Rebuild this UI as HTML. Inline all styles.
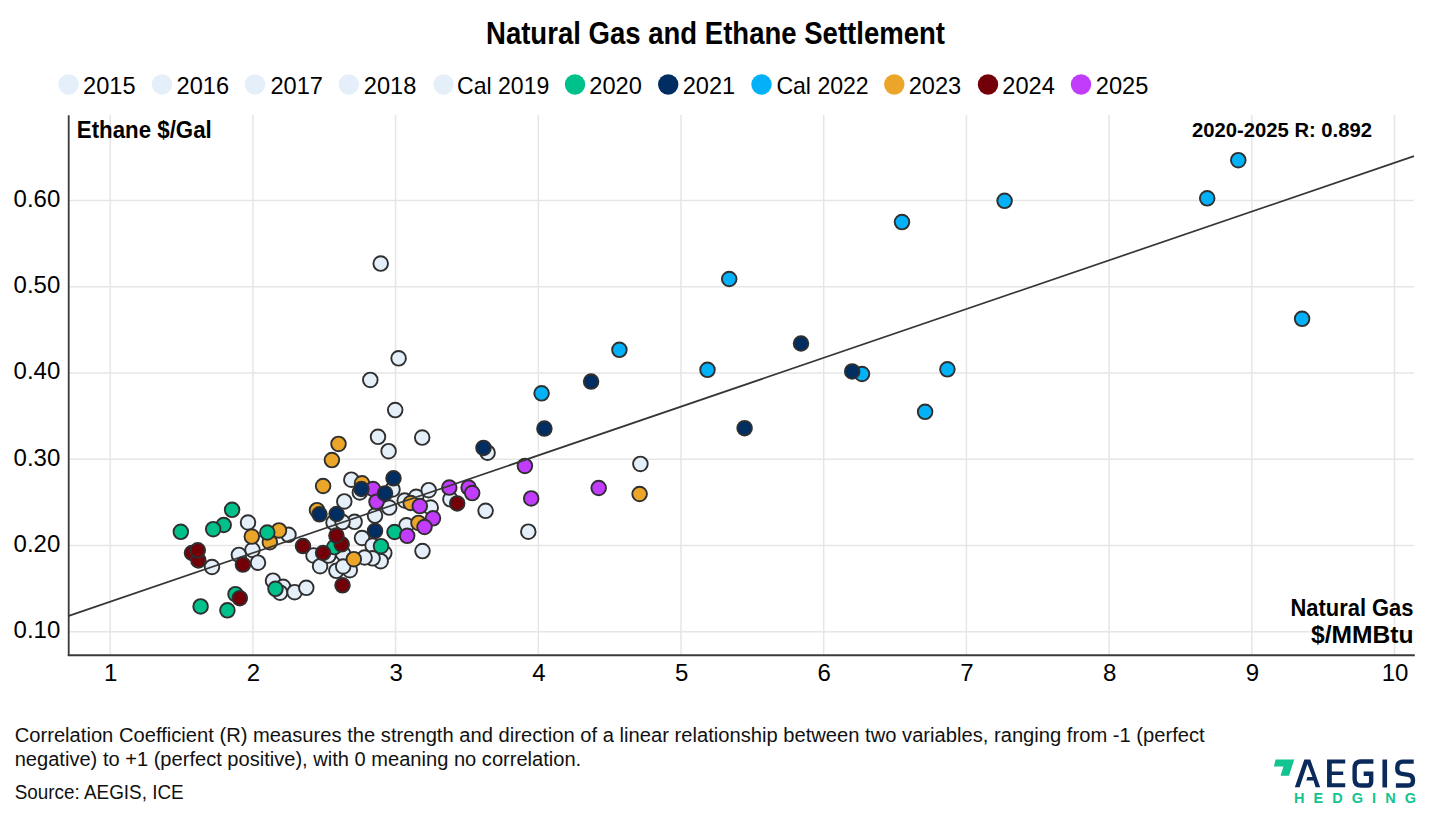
<!DOCTYPE html>
<html><head><meta charset="utf-8"><style>
html,body{margin:0;padding:0;background:#fff;width:1430px;height:819px;overflow:hidden}
svg text{font-family:"Liberation Sans",sans-serif;fill:#000}
.t{font-size:24px}
.title{font-size:30.5px;font-weight:700}
.b22{font-size:23.5px;font-weight:700}
.b23{font-size:23px;font-weight:700}
.b20{font-size:20px;font-weight:700}
.fn{font-size:20px;fill:#111}
.hed{font-size:122px;font-weight:700;fill:#12c48f}
</style></head><body>
<svg width="1430" height="819" viewBox="0 0 1430 819" style="display:block">
<line x1="110.2" y1="115" x2="110.2" y2="655" stroke="#e6e6e6" stroke-width="1.5"/>
<line x1="252.9" y1="115" x2="252.9" y2="655" stroke="#e6e6e6" stroke-width="1.5"/>
<line x1="395.6" y1="115" x2="395.6" y2="655" stroke="#e6e6e6" stroke-width="1.5"/>
<line x1="538.3" y1="115" x2="538.3" y2="655" stroke="#e6e6e6" stroke-width="1.5"/>
<line x1="681.0" y1="115" x2="681.0" y2="655" stroke="#e6e6e6" stroke-width="1.5"/>
<line x1="823.7" y1="115" x2="823.7" y2="655" stroke="#e6e6e6" stroke-width="1.5"/>
<line x1="966.4" y1="115" x2="966.4" y2="655" stroke="#e6e6e6" stroke-width="1.5"/>
<line x1="1109.1" y1="115" x2="1109.1" y2="655" stroke="#e6e6e6" stroke-width="1.5"/>
<line x1="1251.8" y1="115" x2="1251.8" y2="655" stroke="#e6e6e6" stroke-width="1.5"/>
<line x1="1394.5" y1="115" x2="1394.5" y2="655" stroke="#e6e6e6" stroke-width="1.5"/>
<line x1="68" y1="631.8" x2="1414" y2="631.8" stroke="#e6e6e6" stroke-width="1.5"/>
<line x1="68" y1="545.6" x2="1414" y2="545.6" stroke="#e6e6e6" stroke-width="1.5"/>
<line x1="68" y1="459.3" x2="1414" y2="459.3" stroke="#e6e6e6" stroke-width="1.5"/>
<line x1="68" y1="373.1" x2="1414" y2="373.1" stroke="#e6e6e6" stroke-width="1.5"/>
<line x1="68" y1="286.8" x2="1414" y2="286.8" stroke="#e6e6e6" stroke-width="1.5"/>
<line x1="68" y1="200.6" x2="1414" y2="200.6" stroke="#e6e6e6" stroke-width="1.5"/>
<line x1="68.7" y1="115.2" x2="68.7" y2="656" stroke="#3a3a3a" stroke-width="1.8"/>
<line x1="67.8" y1="655.2" x2="1414.8" y2="655.2" stroke="#3a3a3a" stroke-width="2"/>
<text x="110.8" y="680.5" text-anchor="middle" class="t">1</text>
<text x="253.5" y="680.5" text-anchor="middle" class="t">2</text>
<text x="396.2" y="680.5" text-anchor="middle" class="t">3</text>
<text x="538.9" y="680.5" text-anchor="middle" class="t">4</text>
<text x="681.6" y="680.5" text-anchor="middle" class="t">5</text>
<text x="824.3" y="680.5" text-anchor="middle" class="t">6</text>
<text x="967.0" y="680.5" text-anchor="middle" class="t">7</text>
<text x="1109.7" y="680.5" text-anchor="middle" class="t">8</text>
<text x="1252.4" y="680.5" text-anchor="middle" class="t">9</text>
<text x="1395.1" y="680.5" text-anchor="middle" class="t">10</text>
<text x="60.3" y="638.1" text-anchor="end" class="t">0.10</text>
<text x="60.3" y="551.9" text-anchor="end" class="t">0.20</text>
<text x="60.3" y="465.6" text-anchor="end" class="t">0.30</text>
<text x="60.3" y="379.4" text-anchor="end" class="t">0.40</text>
<text x="60.3" y="293.1" text-anchor="end" class="t">0.50</text>
<text x="60.3" y="206.9" text-anchor="end" class="t">0.60</text>
<text x="76.8" y="138.4" class="b22" textLength="135" lengthAdjust="spacingAndGlyphs">Ethane $/Gal</text>
<text x="1290.5" y="616" class="b23" textLength="123" lengthAdjust="spacingAndGlyphs">Natural Gas</text>
<text x="1311" y="643.2" class="b23" textLength="102.5" lengthAdjust="spacingAndGlyphs">$/MMBtu</text>
<text x="1192" y="137.2" class="b20" textLength="180" lengthAdjust="spacingAndGlyphs">2020-2025 R: 0.892</text>
<circle cx="380.7" cy="263.6" r="7.3" fill="#e4effa" stroke="#2f2f2f" stroke-width="1.9"/>
<circle cx="398.6" cy="358.3" r="7.3" fill="#e4effa" stroke="#2f2f2f" stroke-width="1.9"/>
<circle cx="370.3" cy="379.9" r="7.3" fill="#e4effa" stroke="#2f2f2f" stroke-width="1.9"/>
<circle cx="395.2" cy="410.1" r="7.3" fill="#e4effa" stroke="#2f2f2f" stroke-width="1.9"/>
<circle cx="378.0" cy="436.8" r="7.3" fill="#e4effa" stroke="#2f2f2f" stroke-width="1.9"/>
<circle cx="422.2" cy="437.6" r="7.3" fill="#e4effa" stroke="#2f2f2f" stroke-width="1.9"/>
<circle cx="388.6" cy="451.2" r="7.3" fill="#e4effa" stroke="#2f2f2f" stroke-width="1.9"/>
<circle cx="487.6" cy="452.7" r="7.3" fill="#e4effa" stroke="#2f2f2f" stroke-width="1.9"/>
<circle cx="640.4" cy="463.9" r="7.3" fill="#e4effa" stroke="#2f2f2f" stroke-width="1.9"/>
<circle cx="351.3" cy="479.7" r="7.3" fill="#e4effa" stroke="#2f2f2f" stroke-width="1.9"/>
<circle cx="359.8" cy="492.4" r="7.3" fill="#e4effa" stroke="#2f2f2f" stroke-width="1.9"/>
<circle cx="392.5" cy="489.4" r="7.3" fill="#e4effa" stroke="#2f2f2f" stroke-width="1.9"/>
<circle cx="344.3" cy="501.4" r="7.3" fill="#e4effa" stroke="#2f2f2f" stroke-width="1.9"/>
<circle cx="354.6" cy="521.8" r="7.3" fill="#e4effa" stroke="#2f2f2f" stroke-width="1.9"/>
<circle cx="375.0" cy="515.6" r="7.3" fill="#e4effa" stroke="#2f2f2f" stroke-width="1.9"/>
<circle cx="389.2" cy="507.6" r="7.3" fill="#e4effa" stroke="#2f2f2f" stroke-width="1.9"/>
<circle cx="404.7" cy="500.5" r="7.3" fill="#e4effa" stroke="#2f2f2f" stroke-width="1.9"/>
<circle cx="416.2" cy="496.8" r="7.3" fill="#e4effa" stroke="#2f2f2f" stroke-width="1.9"/>
<circle cx="428.7" cy="490.2" r="7.3" fill="#e4effa" stroke="#2f2f2f" stroke-width="1.9"/>
<circle cx="430.7" cy="507.5" r="7.3" fill="#e4effa" stroke="#2f2f2f" stroke-width="1.9"/>
<circle cx="450.4" cy="499.3" r="7.3" fill="#e4effa" stroke="#2f2f2f" stroke-width="1.9"/>
<circle cx="485.6" cy="510.8" r="7.3" fill="#e4effa" stroke="#2f2f2f" stroke-width="1.9"/>
<circle cx="333.5" cy="522.6" r="7.3" fill="#e4effa" stroke="#2f2f2f" stroke-width="1.9"/>
<circle cx="342.5" cy="522.1" r="7.3" fill="#e4effa" stroke="#2f2f2f" stroke-width="1.9"/>
<circle cx="406.5" cy="525.3" r="7.3" fill="#e4effa" stroke="#2f2f2f" stroke-width="1.9"/>
<circle cx="528.3" cy="531.7" r="7.3" fill="#e4effa" stroke="#2f2f2f" stroke-width="1.9"/>
<circle cx="422.5" cy="551.1" r="7.3" fill="#e4effa" stroke="#2f2f2f" stroke-width="1.9"/>
<circle cx="248.0" cy="522.5" r="7.3" fill="#e4effa" stroke="#2f2f2f" stroke-width="1.9"/>
<circle cx="288.5" cy="534.8" r="7.3" fill="#e4effa" stroke="#2f2f2f" stroke-width="1.9"/>
<circle cx="212.0" cy="567.0" r="7.3" fill="#e4effa" stroke="#2f2f2f" stroke-width="1.9"/>
<circle cx="238.9" cy="554.9" r="7.3" fill="#e4effa" stroke="#2f2f2f" stroke-width="1.9"/>
<circle cx="252.5" cy="550.0" r="7.3" fill="#e4effa" stroke="#2f2f2f" stroke-width="1.9"/>
<circle cx="258.0" cy="562.7" r="7.3" fill="#e4effa" stroke="#2f2f2f" stroke-width="1.9"/>
<circle cx="273.0" cy="580.7" r="7.3" fill="#e4effa" stroke="#2f2f2f" stroke-width="1.9"/>
<circle cx="283.1" cy="586.8" r="7.3" fill="#e4effa" stroke="#2f2f2f" stroke-width="1.9"/>
<circle cx="280.1" cy="592.7" r="7.3" fill="#e4effa" stroke="#2f2f2f" stroke-width="1.9"/>
<circle cx="294.6" cy="592.2" r="7.3" fill="#e4effa" stroke="#2f2f2f" stroke-width="1.9"/>
<circle cx="306.3" cy="587.8" r="7.3" fill="#e4effa" stroke="#2f2f2f" stroke-width="1.9"/>
<circle cx="313.5" cy="555.4" r="7.3" fill="#e4effa" stroke="#2f2f2f" stroke-width="1.9"/>
<circle cx="320.1" cy="566.2" r="7.3" fill="#e4effa" stroke="#2f2f2f" stroke-width="1.9"/>
<circle cx="328.4" cy="555.6" r="7.3" fill="#e4effa" stroke="#2f2f2f" stroke-width="1.9"/>
<circle cx="343.0" cy="553.5" r="7.3" fill="#e4effa" stroke="#2f2f2f" stroke-width="1.9"/>
<circle cx="362.0" cy="538.0" r="7.3" fill="#e4effa" stroke="#2f2f2f" stroke-width="1.9"/>
<circle cx="372.6" cy="545.5" r="7.3" fill="#e4effa" stroke="#2f2f2f" stroke-width="1.9"/>
<circle cx="384.3" cy="553.1" r="7.3" fill="#e4effa" stroke="#2f2f2f" stroke-width="1.9"/>
<circle cx="380.7" cy="561.2" r="7.3" fill="#e4effa" stroke="#2f2f2f" stroke-width="1.9"/>
<circle cx="372.6" cy="558.3" r="7.3" fill="#e4effa" stroke="#2f2f2f" stroke-width="1.9"/>
<circle cx="364.6" cy="557.5" r="7.3" fill="#e4effa" stroke="#2f2f2f" stroke-width="1.9"/>
<circle cx="336.4" cy="570.8" r="7.3" fill="#e4effa" stroke="#2f2f2f" stroke-width="1.9"/>
<circle cx="349.8" cy="570.2" r="7.3" fill="#e4effa" stroke="#2f2f2f" stroke-width="1.9"/>
<circle cx="343.2" cy="566.5" r="7.3" fill="#e4effa" stroke="#2f2f2f" stroke-width="1.9"/>
<circle cx="338.5" cy="443.9" r="7.3" fill="#eba62a" stroke="#2f2f2f" stroke-width="1.9"/>
<circle cx="331.9" cy="460.1" r="7.3" fill="#eba62a" stroke="#2f2f2f" stroke-width="1.9"/>
<circle cx="323.1" cy="486.0" r="7.3" fill="#eba62a" stroke="#2f2f2f" stroke-width="1.9"/>
<circle cx="362.0" cy="483.3" r="7.3" fill="#eba62a" stroke="#2f2f2f" stroke-width="1.9"/>
<circle cx="317.0" cy="510.2" r="7.3" fill="#eba62a" stroke="#2f2f2f" stroke-width="1.9"/>
<circle cx="410.7" cy="503.0" r="7.3" fill="#eba62a" stroke="#2f2f2f" stroke-width="1.9"/>
<circle cx="418.5" cy="522.9" r="7.3" fill="#eba62a" stroke="#2f2f2f" stroke-width="1.9"/>
<circle cx="639.6" cy="494.0" r="7.3" fill="#eba62a" stroke="#2f2f2f" stroke-width="1.9"/>
<circle cx="251.8" cy="536.6" r="7.3" fill="#eba62a" stroke="#2f2f2f" stroke-width="1.9"/>
<circle cx="279.0" cy="530.4" r="7.3" fill="#eba62a" stroke="#2f2f2f" stroke-width="1.9"/>
<circle cx="269.8" cy="542.2" r="7.3" fill="#eba62a" stroke="#2f2f2f" stroke-width="1.9"/>
<circle cx="353.8" cy="559.2" r="7.3" fill="#eba62a" stroke="#2f2f2f" stroke-width="1.9"/>
<circle cx="232.1" cy="509.8" r="7.3" fill="#00c18a" stroke="#2f2f2f" stroke-width="1.9"/>
<circle cx="180.8" cy="531.8" r="7.3" fill="#00c18a" stroke="#2f2f2f" stroke-width="1.9"/>
<circle cx="223.7" cy="525.0" r="7.3" fill="#00c18a" stroke="#2f2f2f" stroke-width="1.9"/>
<circle cx="213.2" cy="529.2" r="7.3" fill="#00c18a" stroke="#2f2f2f" stroke-width="1.9"/>
<circle cx="267.3" cy="532.5" r="7.3" fill="#00c18a" stroke="#2f2f2f" stroke-width="1.9"/>
<circle cx="275.5" cy="588.8" r="7.3" fill="#00c18a" stroke="#2f2f2f" stroke-width="1.9"/>
<circle cx="235.5" cy="594.2" r="7.3" fill="#00c18a" stroke="#2f2f2f" stroke-width="1.9"/>
<circle cx="200.6" cy="606.4" r="7.3" fill="#00c18a" stroke="#2f2f2f" stroke-width="1.9"/>
<circle cx="227.4" cy="610.3" r="7.3" fill="#00c18a" stroke="#2f2f2f" stroke-width="1.9"/>
<circle cx="334.4" cy="547.1" r="7.3" fill="#00c18a" stroke="#2f2f2f" stroke-width="1.9"/>
<circle cx="394.5" cy="532.0" r="7.3" fill="#00c18a" stroke="#2f2f2f" stroke-width="1.9"/>
<circle cx="381.0" cy="546.2" r="7.3" fill="#00c18a" stroke="#2f2f2f" stroke-width="1.9"/>
<circle cx="457.2" cy="503.4" r="7.3" fill="#730009" stroke="#2f2f2f" stroke-width="1.9"/>
<circle cx="192.0" cy="553.0" r="7.3" fill="#730009" stroke="#2f2f2f" stroke-width="1.9"/>
<circle cx="198.4" cy="560.4" r="7.3" fill="#730009" stroke="#2f2f2f" stroke-width="1.9"/>
<circle cx="197.8" cy="550.3" r="7.3" fill="#730009" stroke="#2f2f2f" stroke-width="1.9"/>
<circle cx="242.9" cy="564.6" r="7.3" fill="#730009" stroke="#2f2f2f" stroke-width="1.9"/>
<circle cx="239.8" cy="598.2" r="7.3" fill="#730009" stroke="#2f2f2f" stroke-width="1.9"/>
<circle cx="303.0" cy="546.1" r="7.3" fill="#730009" stroke="#2f2f2f" stroke-width="1.9"/>
<circle cx="323.1" cy="553.0" r="7.3" fill="#730009" stroke="#2f2f2f" stroke-width="1.9"/>
<circle cx="341.7" cy="544.3" r="7.3" fill="#730009" stroke="#2f2f2f" stroke-width="1.9"/>
<circle cx="336.4" cy="535.6" r="7.3" fill="#730009" stroke="#2f2f2f" stroke-width="1.9"/>
<circle cx="342.5" cy="585.3" r="7.3" fill="#730009" stroke="#2f2f2f" stroke-width="1.9"/>
<circle cx="524.9" cy="465.9" r="7.3" fill="#c23cfc" stroke="#2f2f2f" stroke-width="1.9"/>
<circle cx="531.2" cy="498.4" r="7.3" fill="#c23cfc" stroke="#2f2f2f" stroke-width="1.9"/>
<circle cx="598.7" cy="488.0" r="7.3" fill="#c23cfc" stroke="#2f2f2f" stroke-width="1.9"/>
<circle cx="449.3" cy="487.6" r="7.3" fill="#c23cfc" stroke="#2f2f2f" stroke-width="1.9"/>
<circle cx="468.6" cy="487.6" r="7.3" fill="#c23cfc" stroke="#2f2f2f" stroke-width="1.9"/>
<circle cx="472.2" cy="493.1" r="7.3" fill="#c23cfc" stroke="#2f2f2f" stroke-width="1.9"/>
<circle cx="373.0" cy="489.0" r="7.3" fill="#c23cfc" stroke="#2f2f2f" stroke-width="1.9"/>
<circle cx="376.5" cy="501.8" r="7.3" fill="#c23cfc" stroke="#2f2f2f" stroke-width="1.9"/>
<circle cx="419.8" cy="506.1" r="7.3" fill="#c23cfc" stroke="#2f2f2f" stroke-width="1.9"/>
<circle cx="433.0" cy="518.3" r="7.3" fill="#c23cfc" stroke="#2f2f2f" stroke-width="1.9"/>
<circle cx="424.5" cy="527.0" r="7.3" fill="#c23cfc" stroke="#2f2f2f" stroke-width="1.9"/>
<circle cx="407.2" cy="535.8" r="7.3" fill="#c23cfc" stroke="#2f2f2f" stroke-width="1.9"/>
<circle cx="1238.3" cy="160.2" r="7.3" fill="#03b1f8" stroke="#2f2f2f" stroke-width="1.9"/>
<circle cx="1207.2" cy="198.3" r="7.3" fill="#03b1f8" stroke="#2f2f2f" stroke-width="1.9"/>
<circle cx="1004.6" cy="200.8" r="7.3" fill="#03b1f8" stroke="#2f2f2f" stroke-width="1.9"/>
<circle cx="902.0" cy="222.1" r="7.3" fill="#03b1f8" stroke="#2f2f2f" stroke-width="1.9"/>
<circle cx="729.2" cy="279.0" r="7.3" fill="#03b1f8" stroke="#2f2f2f" stroke-width="1.9"/>
<circle cx="1302.1" cy="318.8" r="7.3" fill="#03b1f8" stroke="#2f2f2f" stroke-width="1.9"/>
<circle cx="619.4" cy="349.8" r="7.3" fill="#03b1f8" stroke="#2f2f2f" stroke-width="1.9"/>
<circle cx="707.5" cy="369.8" r="7.3" fill="#03b1f8" stroke="#2f2f2f" stroke-width="1.9"/>
<circle cx="862.0" cy="374.0" r="7.3" fill="#03b1f8" stroke="#2f2f2f" stroke-width="1.9"/>
<circle cx="947.4" cy="369.3" r="7.3" fill="#03b1f8" stroke="#2f2f2f" stroke-width="1.9"/>
<circle cx="541.6" cy="393.3" r="7.3" fill="#03b1f8" stroke="#2f2f2f" stroke-width="1.9"/>
<circle cx="925.1" cy="411.8" r="7.3" fill="#03b1f8" stroke="#2f2f2f" stroke-width="1.9"/>
<circle cx="801.0" cy="343.5" r="7.3" fill="#002d62" stroke="#2f2f2f" stroke-width="1.9"/>
<circle cx="591.1" cy="381.6" r="7.3" fill="#002d62" stroke="#2f2f2f" stroke-width="1.9"/>
<circle cx="852.2" cy="371.4" r="7.3" fill="#002d62" stroke="#2f2f2f" stroke-width="1.9"/>
<circle cx="744.6" cy="428.2" r="7.3" fill="#002d62" stroke="#2f2f2f" stroke-width="1.9"/>
<circle cx="544.4" cy="428.6" r="7.3" fill="#002d62" stroke="#2f2f2f" stroke-width="1.9"/>
<circle cx="483.5" cy="447.9" r="7.3" fill="#002d62" stroke="#2f2f2f" stroke-width="1.9"/>
<circle cx="393.5" cy="478.3" r="7.3" fill="#002d62" stroke="#2f2f2f" stroke-width="1.9"/>
<circle cx="361.4" cy="489.0" r="7.3" fill="#002d62" stroke="#2f2f2f" stroke-width="1.9"/>
<circle cx="385.0" cy="493.4" r="7.3" fill="#002d62" stroke="#2f2f2f" stroke-width="1.9"/>
<circle cx="319.5" cy="514.3" r="7.3" fill="#002d62" stroke="#2f2f2f" stroke-width="1.9"/>
<circle cx="336.6" cy="514.0" r="7.3" fill="#002d62" stroke="#2f2f2f" stroke-width="1.9"/>
<circle cx="375.0" cy="530.9" r="7.3" fill="#002d62" stroke="#2f2f2f" stroke-width="1.9"/>
<line x1="68" y1="616.1" x2="1414" y2="156.1" stroke="#363636" stroke-width="1.7"/>
<text x="486" y="43.9" class="title" textLength="459" lengthAdjust="spacingAndGlyphs">Natural Gas and Ethane Settlement</text>
<circle cx="68.5" cy="84.5" r="10.2" fill="#e4effa"/>
<text x="83.0" y="93.5" class="t" textLength="52.5" lengthAdjust="spacingAndGlyphs">2015</text>
<circle cx="162" cy="84.5" r="10.2" fill="#e4effa"/>
<text x="176.5" y="93.5" class="t" textLength="52.5" lengthAdjust="spacingAndGlyphs">2016</text>
<circle cx="255" cy="84.5" r="10.2" fill="#e4effa"/>
<text x="270.4" y="93.5" class="t" textLength="52.5" lengthAdjust="spacingAndGlyphs">2017</text>
<circle cx="348.8" cy="84.5" r="10.2" fill="#e4effa"/>
<text x="363.8" y="93.5" class="t" textLength="52.5" lengthAdjust="spacingAndGlyphs">2018</text>
<circle cx="443.6" cy="84.5" r="10.2" fill="#e4effa"/>
<text x="457.0" y="93.5" class="t" textLength="92.3" lengthAdjust="spacingAndGlyphs">Cal 2019</text>
<circle cx="575" cy="84.5" r="10.2" fill="#00c18a"/>
<text x="589.3" y="93.5" class="t" textLength="52.5" lengthAdjust="spacingAndGlyphs">2020</text>
<circle cx="668.2" cy="84.5" r="10.2" fill="#002d62"/>
<text x="682.7" y="93.5" class="t" textLength="52.5" lengthAdjust="spacingAndGlyphs">2021</text>
<circle cx="761.5" cy="84.5" r="10.2" fill="#03b1f8"/>
<text x="776.4" y="93.5" class="t" textLength="92.3" lengthAdjust="spacingAndGlyphs">Cal 2022</text>
<circle cx="894.3" cy="84.5" r="10.2" fill="#eba62a"/>
<text x="908.7" y="93.5" class="t" textLength="52.5" lengthAdjust="spacingAndGlyphs">2023</text>
<circle cx="988" cy="84.5" r="10.2" fill="#730009"/>
<text x="1002.3" y="93.5" class="t" textLength="52.5" lengthAdjust="spacingAndGlyphs">2024</text>
<circle cx="1081" cy="84.5" r="10.2" fill="#c23cfc"/>
<text x="1095.8" y="93.5" class="t" textLength="52.5" lengthAdjust="spacingAndGlyphs">2025</text>
<text x="14.7" y="741.6" class="fn" textLength="1190" lengthAdjust="spacingAndGlyphs">Correlation Coefficient (R) measures the strength and direction of a linear relationship between two variables, ranging from -1 (perfect</text>
<text x="14.7" y="766.4" class="fn" textLength="566.5" lengthAdjust="spacingAndGlyphs">negative) to +1 (perfect positive), with 0 meaning no correlation.</text>
<text x="14.7" y="798.5" class="fn" textLength="169" lengthAdjust="spacingAndGlyphs">Source: AEGIS, ICE</text>
<svg x="1260" y="750" width="170" height="60.05" viewBox="0 0 1430 505">
<polygon points="131,80 288,80 244,216 173,216 197,139 117,139" fill="#12c48f"/>
<polygon points="293,313 373,80 423,80 506,313 468,313 450,257 390,257 398,228 441,228 399,118 333,313" fill="#0b2a5c"/>
<path d="M564,80 H717 V114 H604 V181 H700 V210 H604 V280 H717 V314 H564 Z" fill="#0b2a5c"/>
<path d="M954,97 H852 Q796,97 796,153 V243 Q796,299 852,299 H903 Q935,299 935,267 V200 H872" fill="none" stroke="#0b2a5c" stroke-width="37"/>
<rect x="1030" y="80" width="39" height="235" fill="#0b2a5c"/>
<path d="M1293,98 H1203 Q1155,98 1155,146 V160 Q1155,196 1195,201 L1250,209 Q1287,214 1287,252 V256 Q1287,299 1244,299 H1143" fill="none" stroke="#0b2a5c" stroke-width="37"/>
<text x="287" y="446" class="hed" textLength="1025" lengthAdjust="spacing">HEDGING</text>
</svg>
</svg>
</body></html>
